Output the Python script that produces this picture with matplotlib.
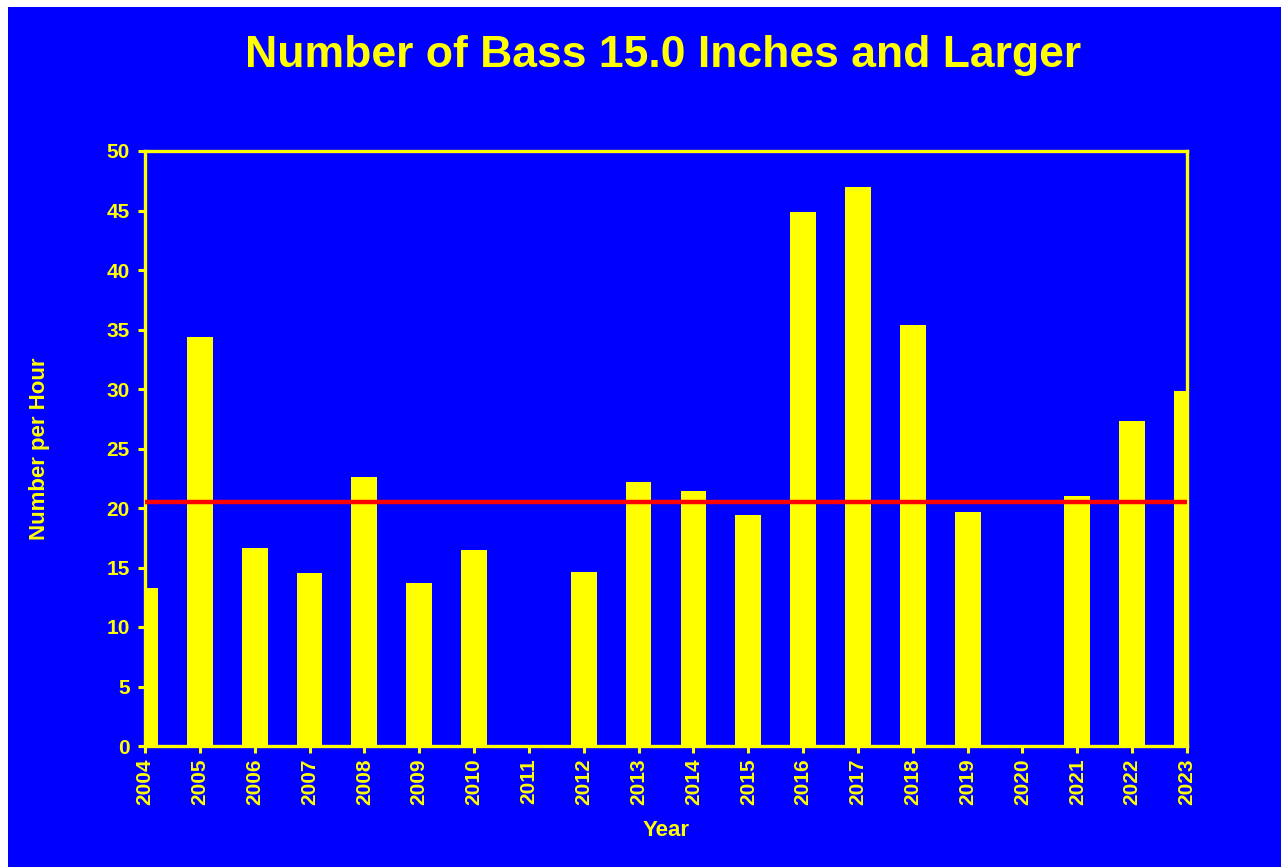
import matplotlib
matplotlib.use("Agg")
import matplotlib.pyplot as plt
from matplotlib.patches import Rectangle

years = list(range(2004, 2024))
values = [13.3, 34.4, 16.6, 14.5, 22.6, 13.7, 16.5, 0.0, 14.6, 22.2,
          21.4, 19.4, 44.9, 47.0, 35.4, 19.7, 0.0, 21.0, 27.3, 29.8]
average = 20.5
y_ticks = [0, 5, 10, 15, 20, 25, 30, 35, 40, 45, 50]

BLUE = "#0000FF"
YEL = "#FFFF00"
plt.rcParams['font.family'] = ['Liberation Sans', 'DejaVu Sans']
plt.rcParams['font.weight'] = 'bold'

fig = plt.figure(figsize=(12.81, 8.67), dpi=100)
fig.patch.set_facecolor("white")
fig.patches.append(Rectangle((8 / 1281, 0), 1 - 8 / 1281, 1 - 7 / 867,
                             transform=fig.transFigure, facecolor=BLUE,
                             edgecolor="none", zorder=-10))

ax = fig.add_axes([145 / 1281, 1 - 746 / 867, (1187 - 145) / 1281, (746 - 151) / 867])
ax.set_facecolor(BLUE)
ax.bar(years, values, width=0.47, color=YEL, edgecolor="none", zorder=2)
ax.axhline(average, color="#FF0000", linewidth=3.2, zorder=3)

ax.set_xlim(2004, 2023)
ax.set_ylim(0, 50)
ax.set_xticks(years)
ax.set_xticklabels([str(y) for y in years], rotation=90, fontsize=15,
                   fontweight='bold', color=YEL)
ax.set_yticks(y_ticks)
ax.set_yticklabels([str(t) for t in y_ticks], fontsize=15,
                   fontweight='bold', color=YEL)
ax.tick_params(axis='both', colors=YEL, width=2.2, length=5, direction='out')
ax.tick_params(axis='x', pad=4)
ax.tick_params(axis='y', pad=6)
for s in ax.spines.values():
    s.set_color(YEL)
    s.set_linewidth(2.4)
    s.set_zorder(1)

fig.text(663 / 1281, 1 - 67 / 867, "Number of Bass 15.0 Inches and Larger",
         ha='center', va='baseline', color=YEL, fontsize=32, fontweight='bold')
fig.text(666 / 1281, 1 - 831 / 867, "Year", ha='center', va='center',
         color=YEL, fontsize=16, fontweight='bold')
fig.text(40 / 1281, 1 - 449 / 867, "Number per Hour", ha='center', va='center',
         rotation=90, color=YEL, fontsize=16, fontweight='bold')

fig.savefig("out.png", dpi=100, facecolor=fig.get_facecolor())
